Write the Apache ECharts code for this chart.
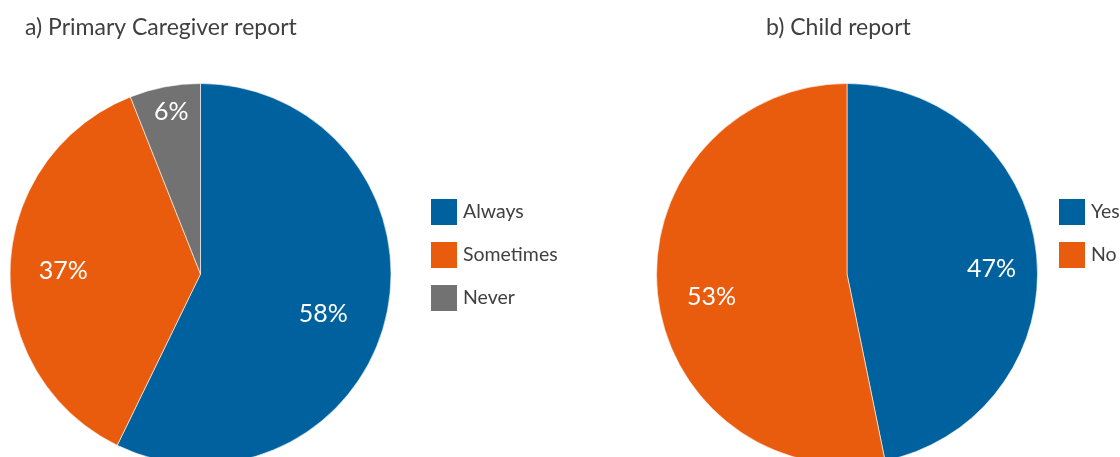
<!DOCTYPE html>
<html><head><meta charset="utf-8">
<script src="https://cdn.jsdelivr.net/npm/echarts@6/dist/echarts.min.js"></script>
<style>html,body{margin:0;padding:0;background:#fff}#c{width:1120px;height:457px}</style>
</head><body><div id="c"></div>
<script>
const caregiverTitle = 'a) Primary Caregiver report';
const caregiverCats = ['Always', 'Sometimes', 'Never'];
const caregiverVals = [57.2, 36.8, 6.0];
const caregiverLabels = ['58%', '37%', '6%'];
const childTitle = 'b) Child report';
const childCats = ['Yes', 'No'];
const childVals = [46.8, 53.2];
const childLabels = ['47%', '53%'];

// styling
const colA = ['#00619f', '#e95b0d', '#727272'];
const colB = ['#00619f', '#e95b0d'];
const labelShiftA = [[-14, 8], [3, 2], [-3, -24]];
const labelShiftB = [[5, 9], [4, 9]];
const FONT = 'Lato';

function pieSeries(center, cats, vals, labels, cols, shifts) {
  return [{
    type: 'pie', center: center, radius: [0, 190.5], startAngle: 90, clockwise: true,
    silent: true, animation: false,
    itemStyle: { borderColor: '#ffffff', borderWidth: 0.6 },
    label: { show: false }, labelLine: { show: false },
    data: cats.map((c, i) => ({ name: c, value: vals[i], itemStyle: { color: cols[i] } }))
  }, {
    type: 'pie', center: center, radius: [84, 190.5], startAngle: 90, clockwise: true,
    silent: true, animation: false, legendHoverLink: false,
    itemStyle: { color: 'rgba(0,0,0,0)', borderWidth: 0 },
    label: { show: true, position: 'inside', color: '#ffffff', fontSize: 25, fontFamily: FONT,
      formatter: p => labels[p.dataIndex] },
    labelLine: { show: false },
    emphasis: { disabled: true },
    data: cats.map((c, i) => ({ name: c + ' #', value: vals[i], label: { offset: shifts[i] } }))
  }];
}

const chart = echarts.init(document.getElementById('c'), null, { renderer: 'canvas' });
const legendBase = { orient: 'vertical', top: 197, padding: 0, itemWidth: 28, itemHeight: 28, itemGap: 13,
  icon: 'rect', selectedMode: false, textStyle: { fontFamily: FONT, fontSize: 19.5, color: '#404040' } };
chart.setOption({
  animation: false,
  title: [
    { text: caregiverTitle, left: 20, top: 11, textStyle: { fontFamily: FONT, fontSize: 23, fontWeight: 'normal', color: '#404040' } },
    { text: childTitle, left: 761, top: 11, textStyle: { fontFamily: FONT, fontSize: 23, fontWeight: 'normal', color: '#404040' } }
  ],
  legend: [
    Object.assign({ data: caregiverCats, left: 429 }, legendBase),
    Object.assign({ data: childCats, left: 1057 }, legendBase)
  ],
  series: [
    ...pieSeries([200.5, 274], caregiverCats, caregiverVals, caregiverLabels, colA, labelShiftA),
    ...pieSeries([847, 274], childCats, childVals, childLabels, colB, labelShiftB)
  ]
});
</script></body></html>
